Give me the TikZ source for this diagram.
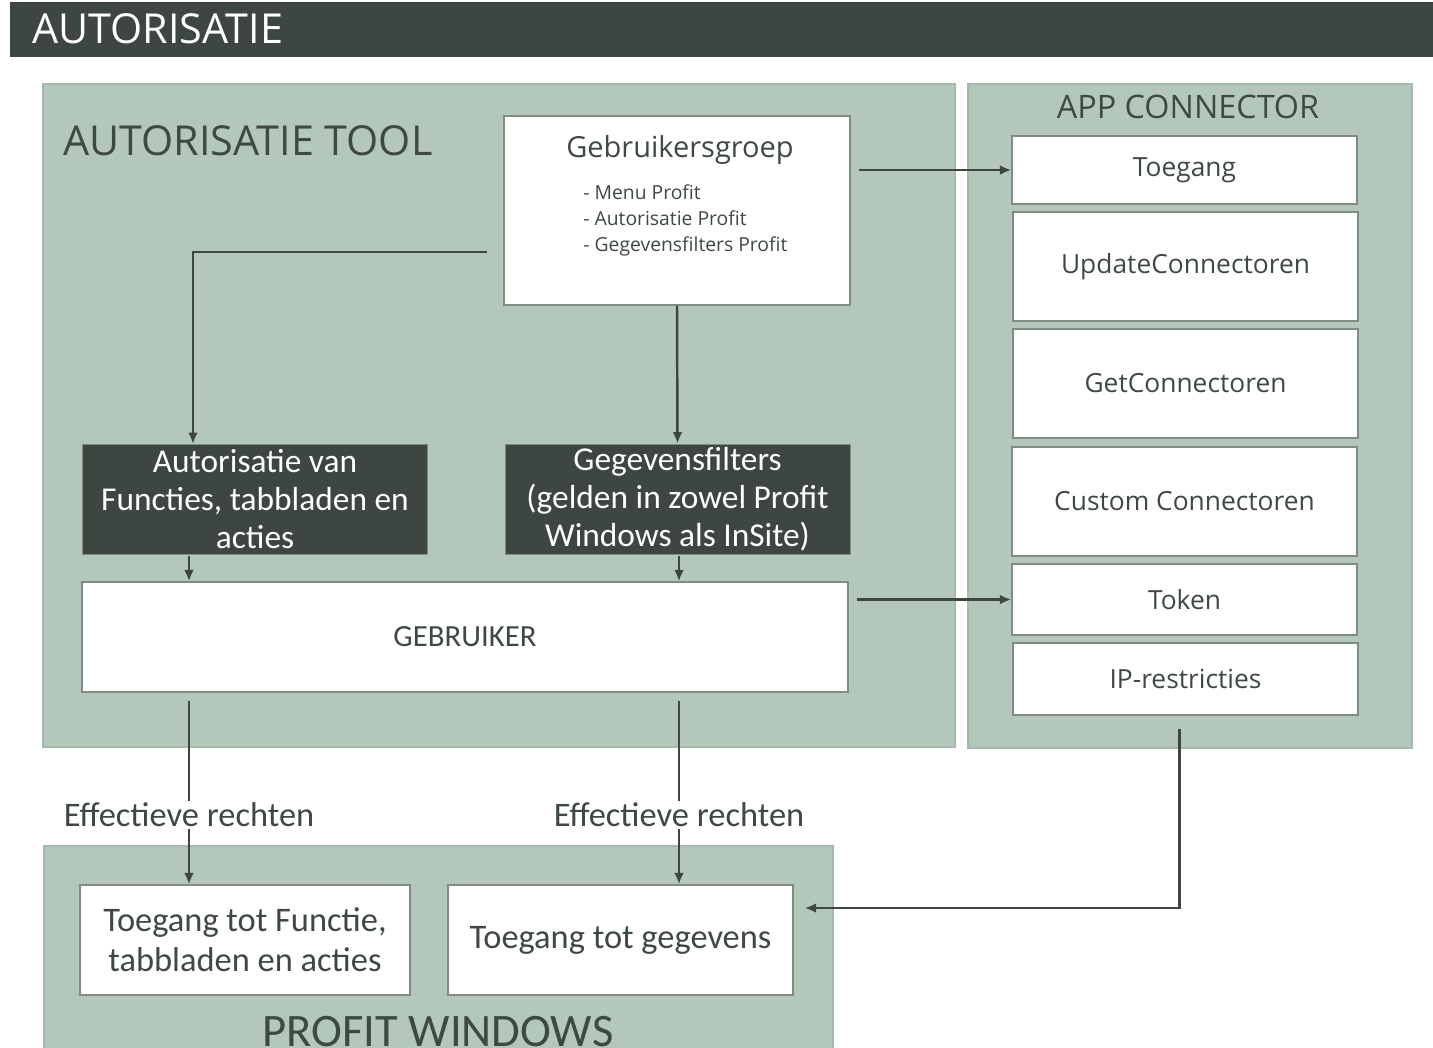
\documentclass[tikz,border=0pt]{standalone}
\usepackage{fontspec}
\setmainfont{Open Sans}
\newfontfamily\calfont{Carlito}
\usepackage{tikz}
\usetikzlibrary{arrows.meta,fit,positioning}
\tikzset{>={Latex[length=6.5pt,width=5.5pt]}}
\definecolor{panelgreen}{HTML}{B3C8BA}
\definecolor{panelline}{HTML}{A3B9AB}
\definecolor{darkslate}{HTML}{3D4641}
\definecolor{txtgrey}{HTML}{3F4944}
\definecolor{boxline}{HTML}{7E8C83}
\newcommand{\fsz}[2]{\fontsize{#1}{#2}\selectfont}
\tikzset{
  panel/.style={draw=panelline, fill=panelgreen, inner sep=0pt, line width=0.6pt},
  wbox/.style={draw=boxline, fill=white, inner sep=0pt, line width=0.8pt, text=txtgrey, align=center},
  dbox/.style={draw=boxline, fill=darkslate, inner sep=0pt, text=white, align=center,
    minimum width=69mm, minimum height=22mm, font=\calfont\fsz{19}{21.5}},
  appbox/.style={wbox, minimum width=69mm, font=\fsz{15}{18}},
  pwbox/.style={wbox, minimum height=22mm, font=\calfont\fsz{19.6}{22.7}},
  conn/.style={->, draw=darkslate, line width=1.4pt},
  effect/.style={fill=white, inner sep=1pt, text=txtgrey, font=\calfont\fsz{19.6}{22}}
}

\begin{document}
\begin{tikzpicture}[x=0.2mm,y=-0.2mm]
\useasboundingbox (0,0) rectangle (1433,1047);

% Title bar
\fill[darkslate] (10,2) rectangle (1433,57);
\node[anchor=base west, inner sep=0pt, text=white, font=\fsz{23.5}{28}] (title) at (32,43) {AUTORISATIE};

% Panels
\node[panel, fit={(43,84) (955,747)}] (tool) {};
\node[panel, fit={(968,84) (1412,748)}] (app) {};
\node[panel, fit={(44,846) (833,1056)}] (pwin) {};
\node[anchor=base west, inner sep=0pt, text=txtgrey, font=\fsz{23.5}{28}] (tooltitle) at (63,155) {AUTORISATIE TOOL};
\node[anchor=base, inner sep=0pt, text=txtgrey, font=\fsz{18.4}{22}] (apptitle) at (1188,118) {APP CONNECTOR};
\node[anchor=base, inner sep=0pt, text=txtgrey, font=\calfont\fsz{26.5}{30}] (pwtitle) at (438,1046) {PROFIT WINDOWS};

% Gebruikersgroep
\node[wbox, minimum width=69.2mm, minimum height=37.8mm] (grp) at (677,210.5) {};
\node[anchor=base, inner sep=0pt, text=txtgrey, font=\fsz{16.5}{20}] (grptitle) at (680,157) {Gebruikersgroep};
\foreach \yy/\item in {199/Menu Profit, 225/Autorisatie Profit, 251/Gegevensfilters Profit}
  \node[anchor=base west, inner sep=0pt, text=txtgrey, font=\fsz{11}{13}] (item\yy) at (583,\yy) {- \item};

% Dark boxes
\node[dbox] (autof) at (255,499) {Autorisatie van\\Functies, tabbladen en\\acties};
\node[dbox] (filt) at (677.5,499) {Gegevensfilters\\(gelden in zowel Profit\\Windows als InSite)};

% Gebruiker
\node[wbox, minimum width=153.2mm, minimum height=22mm, font=\calfont\fsz{17.5}{20}] (user) at (465,637) {GEBRUIKER};

% App connector
\node[appbox, minimum height=13.6mm] (toeg) at (1184.5,170) {Toegang};
\node[appbox, minimum height=21.8mm] (upd) at (1185.5,266.5) {UpdateConnectoren};
\node[appbox, minimum height=21.8mm] (get) at (1185.5,383.5) {GetConnectoren};
\node[appbox, minimum height=21.8mm] (cust) at (1184.5,501.5) {Custom Connectoren};
\node[appbox, minimum height=14.2mm] (token) at (1184.5,599.5) {Token};
\node[appbox, minimum height=14.4mm] (ip) at (1185.5,679) {IP-restricties};

% Profit windows
\node[pwbox, minimum width=66mm] (pwfunc) at (245,940) {Toegang tot Functie,\\tabbladen en acties};
\node[pwbox, minimum width=69mm] (pwdata) at (620.5,940) {Toegang tot gegevens};

% Connectors
\coordinate (lcol) at (189,0);
\coordinate (rcol) at (679,0);
\coordinate (grpout) at (487,252);
\coordinate (autoin) at (193,444);
\draw[conn] (grpout) -| (autoin);
\draw[conn] (grp.south) -- (filt.north);
\draw[conn, shorten <=1.6mm] (grp.east |- toeg.west) -- (toeg.west);
\draw[conn, shorten <=0.4mm] (autof.south -| lcol) -- (user.north -| lcol);
\draw[conn, shorten <=0.4mm] (filt.south -| rcol) -- (user.north -| rcol);
\draw[conn, shorten <=1.6mm] (user.east |- token.west) -- (token.west);
\draw[conn, shorten <=1.6mm] (user.south -| lcol) -- node[effect, pos=0.637] (effl) {Effectieve rechten} (pwfunc.north -| lcol);
\draw[conn, shorten <=1.6mm] (user.south -| rcol) -- node[effect, pos=0.637] (effr) {Effectieve rechten} (pwdata.north -| rcol);
\draw[conn, shorten <=2.6mm, shorten >=2.2mm] ([xshift=-1.2mm]ip.south) |- ([yshift=6.4mm]pwdata.east);

\end{tikzpicture}
\end{document}
